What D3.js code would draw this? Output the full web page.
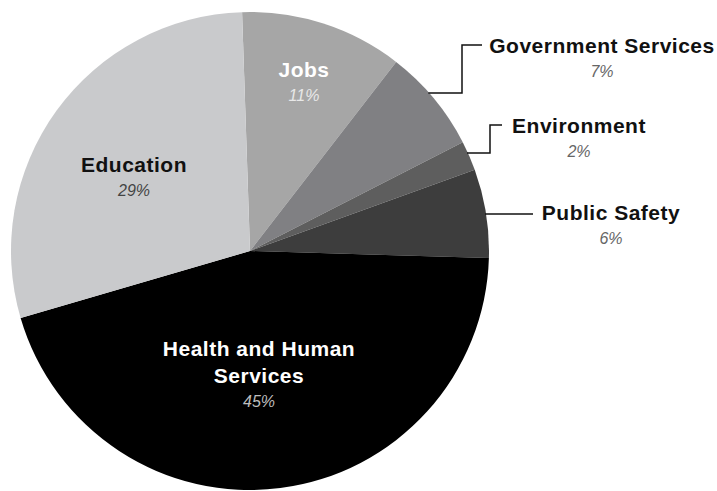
<!DOCTYPE html>
<html>
<head>
<meta charset="utf-8">
<script src="https://cdn.jsdelivr.net/npm/d3@7"></script>
<style>
  html, body { margin: 0; padding: 0; background: #fff; }
  svg { display: block; }
  .name { font-family: "Liberation Sans", Arial, Helvetica, sans-serif; font-weight: bold; font-size: 21px; letter-spacing: 0.5px; }
  .pct { font-family: "Liberation Sans", Arial, Helvetica, sans-serif; font-style: italic; font-size: 16px; }
</style>
</head>
<body>
<svg id="chart" width="717" height="491"></svg>
<script>
// Data
const categories = ["Jobs", "Government Services", "Environment", "Public Safety", "Health and Human Services", "Education"];
const values = [11, 7, 2, 6, 45, 29];
const percentLabels = ["11%", "7%", "2%", "6%", "45%", "29%"];
const colors = ["#a6a6a6", "#808083", "#5e5e5e", "#3d3d3d", "#000000", "#c9cacc"];

// Layout
const W = 717, H = 491;
const cx = 250, cy = 251, R = 239;
const startAngle = -1.9 * Math.PI / 180;

// Label layout: inside labels (lines) or outside with leader
const labelLayout = [
  { type: "in", lines: ["Jobs"], x: 304, y: 77, nameColor: "#ffffff", pctColor: "#e8e8e8" },
  { type: "out", lines: ["Government Services"], x: 602, y: 53, elbowX: 462, lineY: 45, lineEnd: 482, anchorY: 93, pctColor: "#666666" },
  { type: "out", lines: ["Environment"], x: 579, y: 133, elbowX: 490, lineY: 125, lineEnd: 502, anchorY: 153, pctColor: "#666666" },
  { type: "out", lines: ["Public Safety"], x: 611, y: 220, elbowX: null, lineY: 214, lineEnd: 533, anchorY: 214, pctColor: "#666666" },
  { type: "in", lines: ["Health and Human", "Services"], x: 259, y: 356, nameColor: "#ffffff", pctColor: "#bdbdbd" },
  { type: "in", lines: ["Education"], x: 134, y: 172, nameColor: "#111111", pctColor: "#444444" }
];

const svg = d3.select("#chart");
const g = svg.append("g").attr("transform", `translate(${cx},${cy})`);

const pie = d3.pie().sort(null).value(d => d)
  .startAngle(startAngle).endAngle(startAngle + 2 * Math.PI);
const arcs = pie(values);
const arc = d3.arc().innerRadius(0).outerRadius(R);

g.selectAll("path.slice")
  .data(arcs)
  .join("path")
  .attr("class", "slice")
  .attr("d", arc)
  .attr("fill", (d, i) => colors[i]);

// Labels and leader lines
const lineGen = d3.line();
arcs.forEach((a, i) => {
  const L = labelLayout[i];
  const lineH = 27;
  if (L.type === "out") {
    const ay = L.anchorY - cy;
    const ax = Math.sqrt(Math.max(0, R * R - ay * ay)) - 1;
    const pts = [];
    pts.push([cx + ax, L.anchorY]);
    if (L.elbowX !== null) {
      pts.push([L.elbowX, L.anchorY]);
      pts.push([L.elbowX, L.lineY]);
    }
    pts.push([L.lineEnd, L.lineY]);
    svg.append("path")
      .attr("d", lineGen(pts))
      .attr("fill", "none")
      .attr("stroke", "#111")
      .attr("stroke-width", 1.5);
  }
  const nameColor = L.nameColor || "#111111";
  L.lines.forEach((ln, k) => {
    svg.append("text")
      .attr("class", "name")
      .attr("x", L.x)
      .attr("y", L.y + k * lineH)
      .attr("text-anchor", "middle")
      .attr("fill", nameColor)
      .text(ln);
  });
  svg.append("text")
    .attr("class", "pct")
    .attr("x", L.x)
    .attr("y", L.y + (L.lines.length - 1) * lineH + 24)
    .attr("text-anchor", "middle")
    .attr("fill", L.pctColor)
    .text(percentLabels[i]);
});
</script>
</body>
</html>
